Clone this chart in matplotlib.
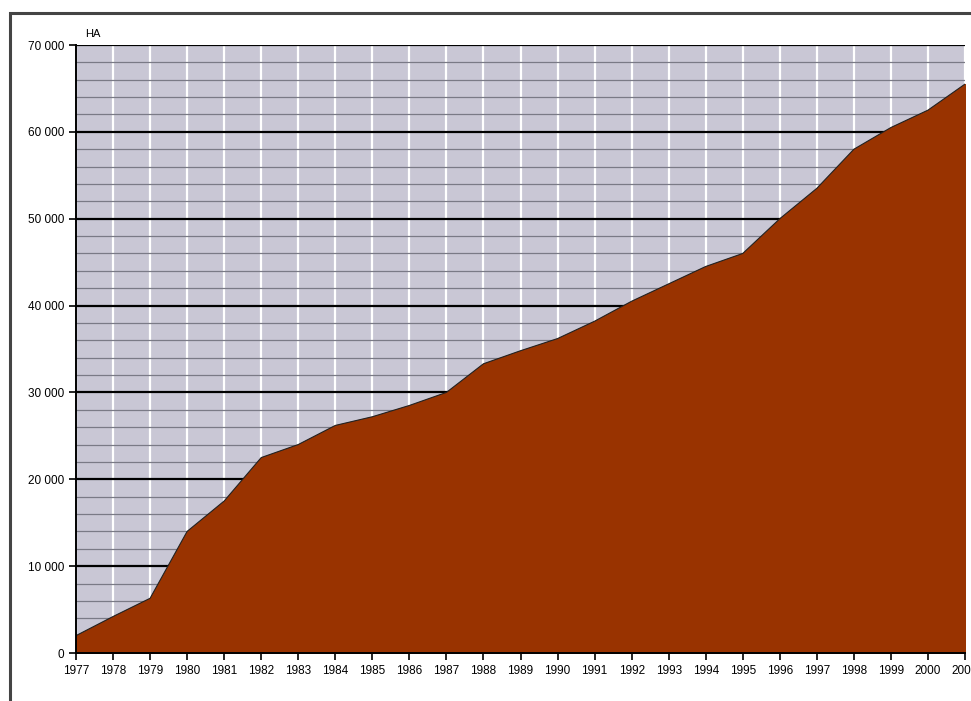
import matplotlib.pyplot as plt
from matplotlib.patches import Rectangle
from matplotlib.ticker import MultipleLocator, FuncFormatter

# surface cumulée (HA) par année
years = [1977, 1978, 1979, 1980, 1981, 1982, 1983, 1984, 1985, 1986, 1987, 1988,
         1989, 1990, 1991, 1992, 1993, 1994, 1995, 1996, 1997, 1998, 1999, 2000, 2001]
surface = [2000, 4200, 6300, 14000, 17500, 22500, 24000, 26200, 27200, 28500, 30000, 33300,
           34800, 36200, 38200, 40500, 42500, 44500, 46000, 50000, 53500, 58000, 60500, 62500, 65500]
year_labels = [str(y) for y in years]

fig = plt.figure(figsize=(9.71, 7.01), dpi=100)
fig.patch.set_facecolor('white')

# cadre extérieur
fig.patches.append(Rectangle((10 / 971, -0.05), 1.1, (701 - 13) / 701 + 0.05,
                             transform=fig.transFigure, fill=False,
                             edgecolor='#444444', linewidth=2.2))

ax = fig.add_axes([76 / 971, 48 / 701, 889 / 971, 608 / 701])
ax.set_facecolor('#c9c7d5')

ax.fill_between(years, surface, 0, color='#993300', zorder=3)
ax.plot(years, surface, color='#222222', linewidth=0.8, zorder=4)

ax.set_xlim(1977, 2001)
ax.set_ylim(0, 70000)

ax.set_xticks(years)
ax.set_xticklabels(year_labels)
ax.yaxis.set_major_locator(MultipleLocator(10000))
ax.yaxis.set_minor_locator(MultipleLocator(2000))
ax.yaxis.set_major_formatter(FuncFormatter(
    lambda v, p: '0' if v == 0 else '{:,.0f}'.format(v).replace(',', ' ')))

# grilles
ax.grid(axis='x', which='major', color='white', linewidth=1.6, zorder=1)
ax.grid(axis='y', which='minor', color='#7a7a86', linewidth=0.9, zorder=1)
ax.grid(axis='y', which='major', color='black', linewidth=1.6, zorder=2)
ax.set_axisbelow(True)

for side in ['top', 'right']:
    ax.spines[side].set_visible(False)
ax.spines['left'].set_linewidth(1.4)
ax.spines['bottom'].set_linewidth(1.4)
ax.spines['left'].set_zorder(5)
ax.spines['bottom'].set_zorder(5)

ax.tick_params(axis='both', which='major', direction='out', length=5, width=1.2,
               labelsize=8.5, colors='black')
ax.tick_params(axis='y', which='minor', length=0)
for lab in ax.get_xticklabels() + ax.get_yticklabels():
    lab.set_fontfamily('Liberation Sans')
    lab.set_fontstretch('condensed')

ax.text(0.01, 1.01, 'HA', transform=ax.transAxes, fontsize=8,
        family='Liberation Sans', ha='left', va='bottom')

plt.savefig('out.png', dpi=100)
